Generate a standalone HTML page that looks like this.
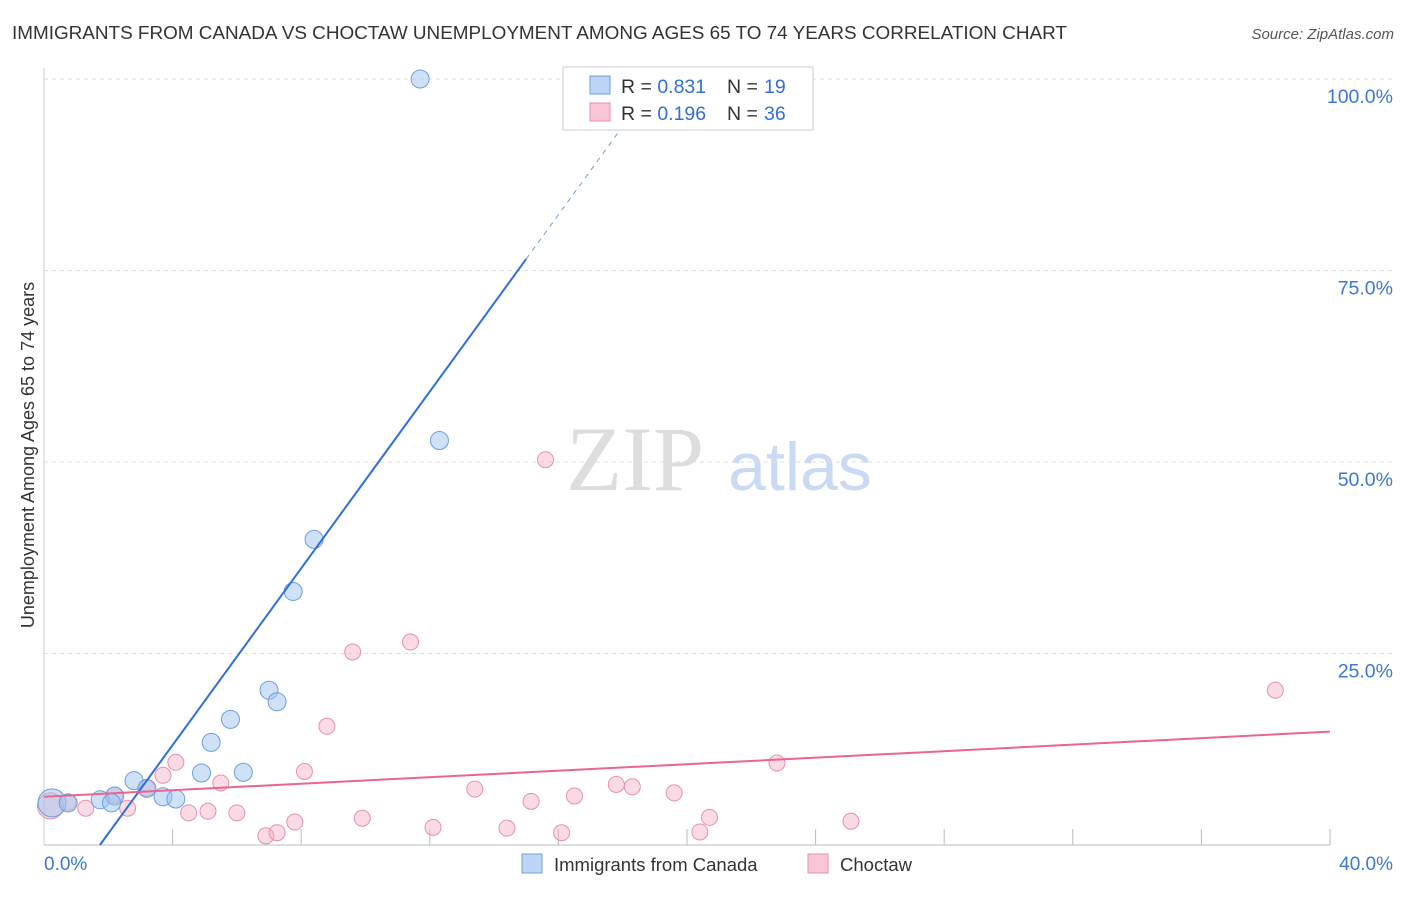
<!DOCTYPE html>
<html><head><meta charset="utf-8"><style>
body{margin:0;background:#fff;font-family:"Liberation Sans",sans-serif}
</style></head><body>
<svg id="c" width="1406" height="892" xmlns="http://www.w3.org/2000/svg" font-family="Liberation Sans, sans-serif">
<text x="12" y="39" font-size="18.9" fill="#333">IMMIGRANTS FROM CANADA VS CHOCTAW UNEMPLOYMENT AMONG AGES 65 TO 74 YEARS CORRELATION CHART</text>
<text x="1394" y="39" font-size="15" fill="#555" font-style="italic" text-anchor="end">Source: ZipAtlas.com</text>
<text x="34" y="455" font-size="18" fill="#333" text-anchor="middle" transform="rotate(-90 34 455)">Unemployment Among Ages 65 to 74 years</text>
<g><text x="635" y="490" font-size="92" fill="#ddd" font-family="Liberation Serif, serif" text-anchor="middle">ZIP</text><text x="800" y="490" font-size="68" fill="#c9daf2" text-anchor="middle">atlas</text></g>
<g id="grid"></g><g id="marks"></g>
<g>
<rect x="563" y="67" width="250" height="63" fill="#fff" stroke="#ccc"/>
<rect x="590" y="76" width="20" height="18" fill="#bcd4f5" stroke="#6a9fdf"/>
<text x="621" y="93" font-size="19.5" fill="#333">R = <tspan fill="#2f6fd8">0.831</tspan></text>
<text x="727" y="93" font-size="19.5" fill="#333">N =</text><text x="764" y="93" font-size="19.5" fill="#2f6fd8">19</text>
<rect x="590" y="103" width="20" height="18" fill="#f9c6d5" stroke="#e890ab"/>
<text x="621" y="120" font-size="19.5" fill="#333">R = <tspan fill="#2f6fd8">0.196</tspan></text>
<text x="727" y="120" font-size="19.5" fill="#333">N =</text><text x="764" y="120" font-size="19.5" fill="#2f6fd8">36</text>
</g>
<g>
<rect x="522" y="854" width="20" height="19" fill="#bcd4f5" stroke="#6a9fdf"/><text x="554" y="871" font-size="18.5" fill="#333">Immigrants from Canada</text>
<rect x="808" y="854" width="20" height="19" fill="#f9c6d5" stroke="#e890ab"/><text x="840" y="871" font-size="18.5" fill="#333">Choctaw</text>
</g>
</svg>
<script>
const xTicks=[0,4,8,12,16,20,24,28,32,36,40];
const yTicks=[25,50,75,100];
const yTickLabels=["25.0%","50.0%","75.0%","100.0%"];
const canadaX=[0.25,0.75,1.75,2.2,2.8,3.2,3.7,4.1,4.9,5.2,5.8,6.2,7.0,7.25,7.75,8.4,12.3,11.7,2.1];
const canadaY=[5.5,5.5,5.9,6.4,8.4,7.4,6.3,6.0,9.4,13.4,16.4,9.5,20.2,18.7,33.1,39.9,52.8,100,5.5];
const choctawX=[0.2,0.75,1.3,2.2,2.6,3.2,3.7,4.1,4.5,5.1,5.5,6.0,6.9,7.25,7.8,8.1,8.8,9.6,9.9,11.4,12.1,13.4,14.4,15.15,15.6,16.1,16.5,17.8,18.3,19.6,20.4,20.7,22.8,25.1,38.3];
const choctawY=[5.1,5.6,4.8,6.5,4.8,7.4,9.1,10.8,4.2,4.4,8.1,4.2,1.2,1.6,3.0,9.6,15.5,25.2,3.5,26.5,2.3,7.3,2.2,5.7,50.3,1.6,6.4,7.9,7.6,6.8,1.7,3.6,10.7,3.1,20.2];
const canadaR=[14,9,9,9,9,9,9,9,9,9,9,9,9,9,9,9,9,9,9];
const fitCanada=[1.74,5.77];
const fitChoctaw=[6.3,0.2125];
const X=v=>44+v*32.15, Y=v=>845-v*7.66;
const ns="http://www.w3.org/2000/svg";
const g=document.getElementById('grid'), m=document.getElementById('marks');
function el(t,a,p){const e=document.createElementNS(ns,t);for(const k in a)e.setAttribute(k,a[k]);p.appendChild(e);return e;}
let ax=el('line',{x1:44,y1:845,x2:1330,y2:845,stroke:'#bbb'},g);


let ay=el('line',{x1:44,y1:68,x2:44,y2:845,stroke:'#ccc'},g);


xTicks.forEach((t,i)=>{if(i==0)return;const l=el('line',{x1:X(t),y1:829,x2:X(t),y2:845,stroke:'#bbb'},g);

});
yTicks.forEach((t,i)=>{const l=el('line',{x1:44,y1:Y(t),x2:1394,y2:Y(t),stroke:'#ddd','stroke-dasharray':'4 4'},g);


const tx=el('text',{x:1393,y:Y(t)+24,'font-size':19.5,fill:'#3a78d8','text-anchor':'end'},g);tx.textContent=yTickLabels[i];

});
let t0=el('text',{x:44,y:870,'font-size':19,fill:'#3a78d8'},g);t0.textContent='0.0%';


let t1=el('text',{x:1393,y:870,'font-size':19,fill:'#3a78d8','text-anchor':'end'},g);t1.textContent='40.0%';


choctawX.forEach((x,i)=>{const c=el('circle',{cx:X(x),cy:Y(choctawY[i]),r:i==0?13:8,fill:'rgba(245,175,198,0.45)',stroke:'#e890ab','stroke-width':1},m);

});
canadaX.forEach((x,i)=>{const c=el('circle',{cx:X(x),cy:Y(canadaY[i]),r:canadaR[i],fill:'rgba(160,195,240,0.5)',stroke:'#6a9fdf','stroke-width':1},m);

});
const fy=x=>fitCanada[1]*(x-fitCanada[0]);
let b=el('line',{x1:X(fitCanada[0]),y1:Y(0),x2:X(15),y2:Y(fy(15)),stroke:'#2f6fd8','stroke-width':2},m);


let bd=el('line',{x1:X(15),y1:Y(fy(15)),x2:X(18.1),y2:Y(fy(18.1)),stroke:'#6a9fdf','stroke-width':1,'stroke-dasharray':'5 5'},m);


let p=el('line',{x1:X(0),y1:Y(fitChoctaw[0]),x2:X(40),y2:Y(fitChoctaw[0]+40*fitChoctaw[1]),stroke:'#e8668f','stroke-width':2},m);


</script>
</body></html>
